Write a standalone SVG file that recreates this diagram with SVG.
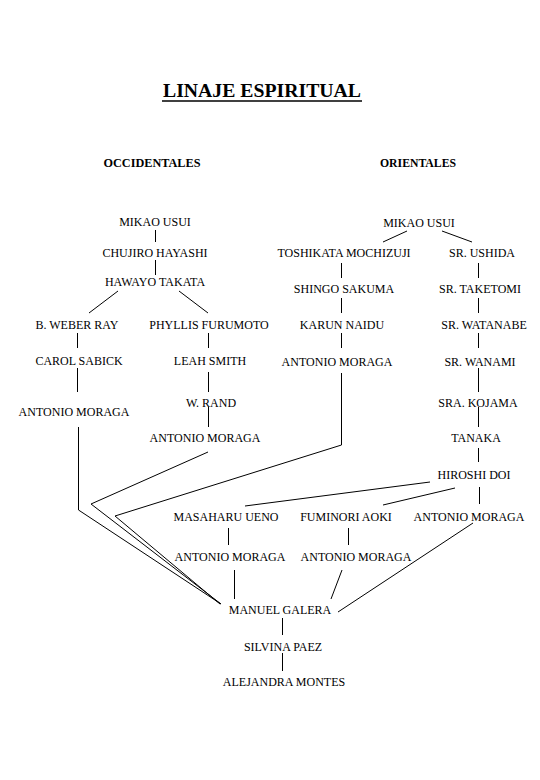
<svg xmlns="http://www.w3.org/2000/svg" width="540" height="780" viewBox="0 0 540 780">
<style>
text{font-family:"Liberation Serif","Times New Roman",serif;font-size:12px;fill:#000;text-anchor:middle}
.h{font-weight:bold}
.t{font-weight:bold;font-size:19px}
.c line,.c polyline{stroke:#000;stroke-width:1;fill:none}
</style>
<rect width="540" height="780" fill="#fff"/>
<g id="title"><text class="t" x="262" y="97" textLength="198" lengthAdjust="spacingAndGlyphs">LINAJE ESPIRITUAL</text><line x1="162" y1="101" x2="362" y2="101" stroke="#000" stroke-width="1.6"/></g>
<g id="occidentales"><text class="h" x="152" y="167" textLength="97" lengthAdjust="spacingAndGlyphs">OCCIDENTALES</text></g>
<g id="orientales"><text class="h" x="418" y="167" textLength="76" lengthAdjust="spacingAndGlyphs">ORIENTALES</text></g>

<g id="n-usui-l"><text x="155" y="226">MIKAO USUI</text></g>
<g id="n-hayashi"><text x="155" y="257">CHUJIRO HAYASHI</text></g>
<g id="n-takata"><text x="155" y="286">HAWAYO TAKATA</text></g>
<g id="n-weber"><text x="77" y="329">B. WEBER RAY</text></g>
<g id="n-furumoto"><text x="209" y="329">PHYLLIS FURUMOTO</text></g>
<g id="n-sabick"><text x="79" y="365">CAROL SABICK</text></g>
<g id="n-leah"><text x="210" y="365">LEAH SMITH</text></g>
<g id="n-moraga-1"><text x="74" y="416">ANTONIO MORAGA</text></g>
<g id="n-rand"><text x="211" y="407">W. RAND</text></g>
<g id="n-moraga-2"><text x="205" y="442">ANTONIO MORAGA</text></g>

<g id="n-usui-r"><text x="419" y="227">MIKAO USUI</text></g>
<g id="n-mochizuji"><text x="344" y="257">TOSHIKATA MOCHIZUJI</text></g>
<g id="n-ushida"><text x="482" y="257">SR. USHIDA</text></g>
<g id="n-sakuma"><text x="344" y="293">SHINGO SAKUMA</text></g>
<g id="n-taketomi"><text x="480" y="293">SR. TAKETOMI</text></g>
<g id="n-naidu"><text x="342" y="329">KARUN NAIDU</text></g>
<g id="n-watanabe"><text x="484" y="329">SR. WATANABE</text></g>
<g id="n-moraga-3"><text x="337" y="366">ANTONIO MORAGA</text></g>
<g id="n-wanami"><text x="480" y="366">SR. WANAMI</text></g>
<g id="n-kojama"><text x="478" y="407">SRA. KOJAMA</text></g>
<g id="n-tanaka"><text x="476" y="442">TANAKA</text></g>
<g id="n-doi"><text x="474" y="479">HIROSHI DOI</text></g>
<g id="n-ueno"><text x="226" y="521">MASAHARU UENO</text></g>
<g id="n-aoki"><text x="346" y="521">FUMINORI AOKI</text></g>
<g id="n-moraga-4"><text x="469" y="521">ANTONIO MORAGA</text></g>
<g id="n-moraga-5"><text x="230" y="561">ANTONIO MORAGA</text></g>
<g id="n-moraga-6"><text x="356" y="561">ANTONIO MORAGA</text></g>
<g id="n-galera"><text x="280" y="614">MANUEL GALERA</text></g>
<g id="n-paez"><text x="283" y="651">SILVINA PAEZ</text></g>
<g id="n-montes"><text x="284" y="686">ALEJANDRA MONTES</text></g>

<g id="connectors" class="c">
<line x1="155.5" y1="230" x2="155.5" y2="242"/>
<line x1="155.5" y1="260" x2="155.5" y2="275"/>
<line x1="118" y1="291" x2="89" y2="313"/>
<line x1="179" y1="291" x2="208" y2="313"/>
<line x1="77.5" y1="333" x2="77.5" y2="348"/>
<line x1="208.5" y1="333" x2="208.5" y2="348"/>
<line x1="77.5" y1="368" x2="77.5" y2="392"/>
<line x1="208.5" y1="372" x2="208.5" y2="392"/>
<line x1="208.5" y1="407" x2="208.5" y2="427"/>
<polyline points="78.5,427 78.5,510 221,604"/>
<polyline points="208,452 91,504 221,604"/>
<polyline points="341.5,373 341.5,445 115,516 220,604"/>
<line x1="407" y1="231" x2="383" y2="242"/>
<line x1="442" y1="231" x2="472" y2="242"/>
<line x1="341.5" y1="263" x2="341.5" y2="278"/>
<line x1="341.5" y1="298" x2="341.5" y2="313"/>
<line x1="341.5" y1="333" x2="341.5" y2="348"/>
<line x1="478.5" y1="263" x2="478.5" y2="278"/>
<line x1="478.5" y1="298" x2="478.5" y2="313"/>
<line x1="478.5" y1="333" x2="478.5" y2="348"/>
<line x1="478.5" y1="368" x2="478.5" y2="392"/>
<line x1="478.5" y1="407" x2="478.5" y2="427"/>
<line x1="478.5" y1="448" x2="478.5" y2="462"/>
<line x1="430" y1="482" x2="245" y2="506"/>
<line x1="455" y1="488" x2="383" y2="505"/>
<line x1="479.5" y1="487" x2="479.5" y2="504"/>
<line x1="228.5" y1="528" x2="228.5" y2="545"/>
<line x1="348.5" y1="528" x2="348.5" y2="545"/>
<line x1="234.5" y1="570" x2="234.5" y2="599"/>
<line x1="342" y1="570" x2="331" y2="599"/>
<line x1="473" y1="523" x2="338" y2="612"/>
<line x1="282.5" y1="618" x2="282.5" y2="635"/>
<line x1="282.5" y1="653" x2="282.5" y2="671"/>
</g>
</svg>
